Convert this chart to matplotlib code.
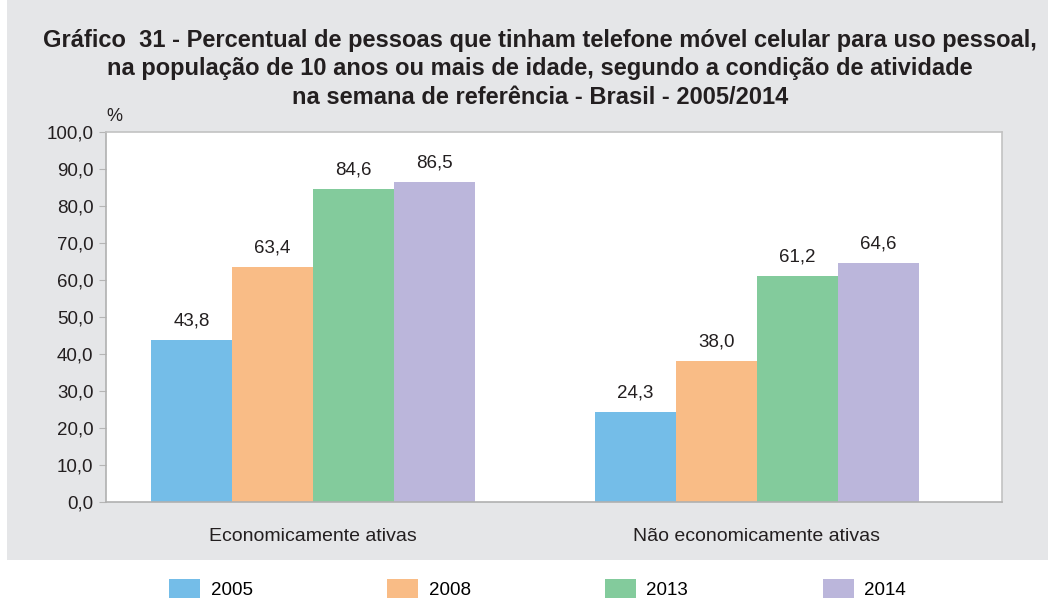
import matplotlib.pyplot as plt
import numpy as np
from matplotlib.patches import Rectangle, Patch

plt.rcParams['font.family'] = ['Liberation Sans', 'DejaVu Sans']

# Dados
categorias = ['Economicamente ativas', 'Não economicamente ativas']
anos = ['2005', '2008', '2013', '2014']
v2005 = [43.8, 24.3]
v2008 = [63.4, 38.0]
v2013 = [84.6, 61.2]
v2014 = [86.5, 64.6]
yticks = [0, 10, 20, 30, 40, 50, 60, 70, 80, 90, 100]

series = [v2005, v2008, v2013, v2014]
cores = ['#74bde8', '#f9bc86', '#83cb9c', '#bbb6db']

fig = plt.figure(figsize=(10.48, 6.01), dpi=100)
fig.patch.set_facecolor('white')
# fundo cinza
fig.patches.append(Rectangle((7 / 1048, 41 / 601), 1 - 7 / 1048, 1 - 41 / 601,
                             transform=fig.transFigure, facecolor='#e5e6e8',
                             edgecolor='none', zorder=-10))

ax = fig.add_axes([0.1011, 0.1647, 0.855, 0.6157])
ax.set_facecolor('white')

x = np.arange(len(categorias))
w = 0.1826
for i, (vals, cor) in enumerate(zip(series, cores)):
    pos = x + (i - 1.5) * w
    ax.bar(pos, vals, width=w, color=cor, edgecolor='none')
    for p, v in zip(pos, vals):
        ax.annotate(f'{v:.1f}'.replace('.', ','), (p, v), xytext=(0, 7.5),
                    textcoords='offset points', ha='center', va='bottom',
                    fontsize=13.5, color='#231f20')

ax.set_xlim(-0.467, 1.553)
ax.set_ylim(0, 100)
ax.set_yticks(yticks)
ax.set_yticklabels([f'{t:.1f}'.replace('.', ',') for t in yticks],
                   fontsize=13.5, color='#231f20')
ax.set_xticks(x)
ax.set_xticklabels(categorias, fontsize=14, color='#231f20')
ax.tick_params(axis='x', length=0, pad=19)
ax.tick_params(axis='y', length=5, color='#b5b5b5', pad=4)
for s in ax.spines.values():
    s.set_color('#c2c2c2')
    s.set_linewidth(1.2)
ax.spines['left'].set_color('#b0b0b0')
ax.spines['bottom'].set_color('#b0b0b0')

ax.text(0.001, 1.02, '%', transform=ax.transAxes, fontsize=13,
        color='#231f20', ha='left', va='bottom')

# titulo (uma linha por texto)
titulo = ['Gráfico  31 - Percentual de pessoas que tinham telefone móvel celular para uso pessoal,',
          'na população de 10 anos ou mais de idade, segundo a condição de atividade',
          'na semana de referência - Brasil - 2005/2014']
for k, linha in enumerate(titulo):
    fig.text(0.515, 1 - (40 + 28.5 * k) / 601, linha, ha='center', va='center',
             fontsize=17, fontweight='bold', color='#231f20')

handles = [Patch(facecolor=c, edgecolor='none') for c in cores]
leg = fig.legend(handles, anos, loc='center', ncol=4,
                 bbox_to_anchor=(0.513, 0.02), frameon=False, fontsize=13.5,
                 handlelength=1.65, handleheight=1.17, columnspacing=7.18,
                 handletextpad=0.55, borderpad=0)

fig.savefig('out.png', dpi=100)
